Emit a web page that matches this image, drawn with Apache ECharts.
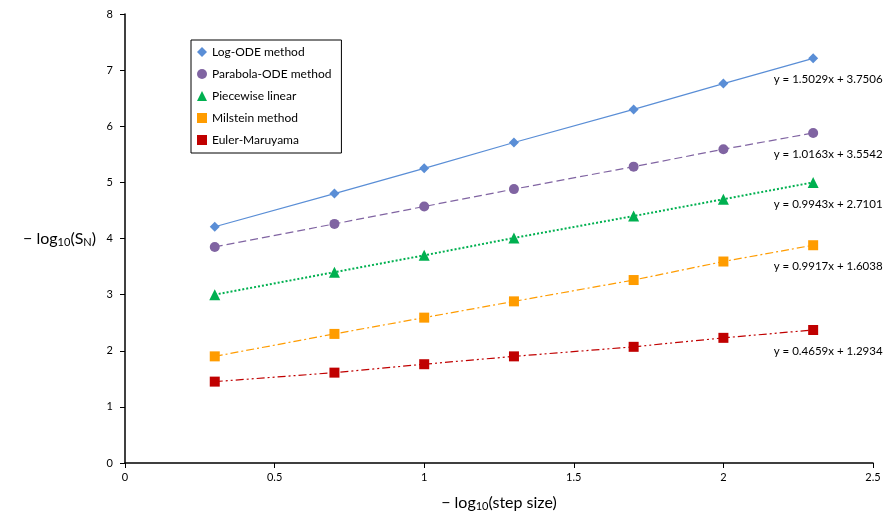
<!DOCTYPE html>
<html><head><meta charset="utf-8">
<script src="https://cdn.jsdelivr.net/npm/echarts@6/dist/echarts.min.js"></script>
<style>html,body{margin:0;padding:0;background:#fff}#c{width:884px;height:513px}</style>
</head><body><div id="c"></div>
<script>
const xVals = [0.3, 0.7, 1.0, 1.3, 1.7, 2.0, 2.3];
const logODE = [4.21, 4.80, 5.25, 5.71, 6.30, 6.76, 7.21];
const parabolaODE = [3.85, 4.26, 4.57, 4.88, 5.28, 5.59, 5.88];
const piecewise = [3.00, 3.40, 3.70, 4.01, 4.40, 4.70, 5.00];
const milstein = [1.90, 2.30, 2.59, 2.88, 3.26, 3.59, 3.88];
const euler = [1.45, 1.61, 1.76, 1.90, 2.07, 2.23, 2.37];
const names = ['Log-ODE method','Parabola-ODE method','Piecewise linear','Milstein method','Euler-Maruyama'];
const equations = ['y = 1.5029x + 3.7506','y = 1.0163x + 3.5542','y = 0.9943x + 2.7101','y = 0.9917x + 1.6038','y = 0.4659x + 1.2934'];
const xTicks = [0, 0.5, 1, 1.5, 2, 2.5];
const yTicks = [0,1,2,3,4,5,6,7,8];

const font = 'Lato, "Open Sans", sans-serif';
const colors = ['#5a8ed6','#8064a2','#00b050','#ff9c00','#c00000'];
const symbols = ['diamond','circle','triangle','rect','rect'];
const symSizes = [10, 10, 11, 10, 10];
const dashes = ['solid',[8,4],[2,2],[8,3,2,3],[8,3,2,3,2,3]];
const widths = [1.2,1.2,2,1.2,1.2];
const allData = [logODE, parabolaODE, piecewise, milstein, euler];

const series = allData.map((d,i)=>({
  name: names[i], type:'line',
  data: d.map((v,j)=>{
    const p = {value:[xVals[j], v]};
    if (j === d.length-1) {
      p.label = {show:true, formatter: equations[i], position:'bottom', distance:10, offset:[15,0],
        color:'#000', fontSize:11.5, fontFamily:font};
    }
    return p;
  }),
  symbol: symbols[i], symbolSize: symSizes[i],
  itemStyle:{color:colors[i]},
  lineStyle:{color:colors[i], width:widths[i], type:dashes[i]},
  emphasis:{disabled:true}, animation:false
}));

const chart = echarts.init(document.getElementById('c'));
chart.setOption({
  animation:false,
  grid:{left:125, right:11, top:14, bottom:50, containLabel:false, outerBoundsMode:'none'},
  legend:{
    orient:'vertical', left:191, top:40, padding:[6,10,7,6], itemGap:10,
    borderColor:'#000', borderWidth:1, backgroundColor:'#fff',
    itemWidth:10, itemHeight:10,
    textStyle:{fontFamily:font, fontSize:12, color:'#000'},
    data: names.map((n,i)=>({name:n, icon: symbols[i]==='rect'?'rect':symbols[i]}))
  },
  xAxis:{
    type:'value', min:0, max:2.5, interval:0.5,
    axisLine:{lineStyle:{color:'#000', width:1.5}},
    axisTick:{show:true, inside:false, length:5, lineStyle:{color:'#000'}},
    splitLine:{show:false},
    axisLabel:{fontFamily:font, fontSize:11, color:'#000', margin:9,
      formatter:v=>xTicks.includes(v)?String(v):''},
    name:'{a|− log}{s|10}{a|(step size)}', nameLocation:'middle', nameGap:30,
    nameTextStyle:{rich:{a:{fontFamily:font, fontSize:16, color:'#000'}, s:{fontFamily:font, fontSize:11, color:'#000', verticalAlign:'bottom', padding:[8,0,0,0]}}}
  },
  yAxis:{
    type:'value', min:0, max:8, interval:1,
    axisLine:{show:true, lineStyle:{color:'#000', width:1.5}},
    axisTick:{show:true, inside:false, length:5, lineStyle:{color:'#000'}},
    splitLine:{show:false},
    axisLabel:{fontFamily:font, fontSize:11, color:'#000', margin:12,
      formatter:v=>yTicks.includes(v)?String(v):''},
    name:'{a|− log}{s|10}{a|(S}{s|N}{a|)}', nameLocation:'middle', nameGap:29, nameRotate:0,
    nameTextStyle:{align:'right', rich:{a:{fontFamily:font, fontSize:16, color:'#000'}, s:{fontFamily:font, fontSize:11, color:'#000', verticalAlign:'bottom', padding:[8,0,0,0]}}}
  },
  series: series
});
</script></body></html>
